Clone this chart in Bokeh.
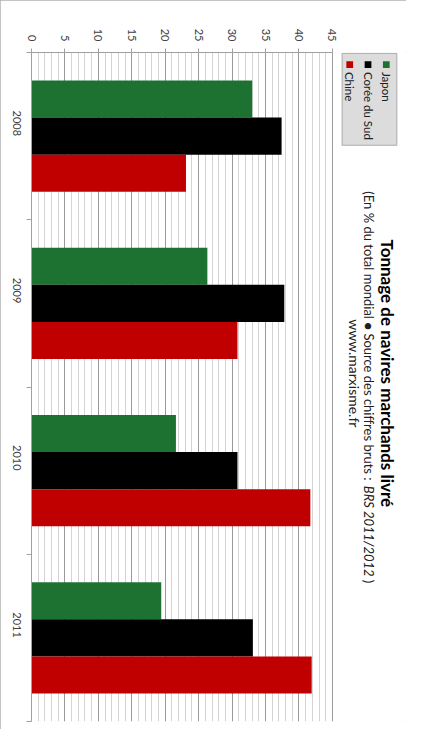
import math
from bokeh.plotting import figure
from bokeh.models import (Range1d, FixedTicker, Label, BoxAnnotation, ColumnDataSource)
from bokeh.transform import dodge
from bokeh.embed import file_html
from bokeh.resources import INLINE

years = ["2008", "2009", "2010", "2011"]
series = ["Japon", "Corée du Sud", "Chine"]
japon = [33.0, 26.3, 21.6, 19.4]
coree = [37.4, 37.8, 30.8, 33.1]
chine = [23.1, 30.8, 41.7, 41.9]
colors = ["#1e7231", "#000000", "#c00000"]
value_ticks = [0, 5, 10, 15, 20, 25, 30, 35, 40, 45]

title = "Tonnage de navires marchands livré"
sub_plain = "(En % du total mondial ● Source des chiffres bruts : "
sub_italic = "BRS 2011/2012"
sub_end = ")"
site = "www.marxisme.fr"

FONT = "Lato"
W, H = 406, 729
KX, KY = W / 422, H / 745  # reference picture -> figure scale

def fx(px):
    return px * KX
def fy(py):
    return py * KY

ML = round(fx(32))
MT = round(fy(53))
FBOT = round(fy(737))
MB = H - FBOT
MR = 0
AXIS_PX = fx(345) - ML
FW = W - ML - MR
x_end = value_ticks[-1] * FW / AXIS_PX

src = ColumnDataSource(dict(pos=[i + 0.5 for i in range(len(years))],
                            Japon=japon, Coree=coree, Chine=chine))

p = figure(width=W, height=H, output_backend="svg", toolbar_location=None,
           x_range=Range1d(0, x_end), y_range=Range1d(len(years), 0),
           x_axis_location="above",
           min_border_left=ML, min_border_top=MT, min_border_bottom=MB,
           min_border_right=MR)
p.outline_line_color = None
p.background_fill_color = "white"
p.border_fill_color = "white"
p.styles = {"outline": "1px solid #b0b0b0", "outline-offset": "-1px"}

bh = 0.222
cols = ["Japon", "Coree", "Chine"]
offsets = [-bh, 0.0, bh]
for c, off, col in zip(cols, offsets, colors):
    p.hbar(y=dodge("pos", off, range=p.y_range), left=0, right=c, height=bh,
           source=src, fill_color=col, line_color=None)

# x axis (values) at top
xa = p.xaxis[0]
xa.bounds = (0, value_ticks[-1])
xa.ticker = FixedTicker(ticks=value_ticks, minor_ticks=[])
xa.major_label_orientation = -math.pi / 2
xa.major_label_text_font = FONT
xa.major_label_text_font_size = "11px"
xa.major_label_text_color = "#404040"
xa.major_tick_out = 4
xa.major_tick_in = 0
xa.minor_tick_out = 0
xa.minor_tick_in = 0
xa.axis_line_color = "#a0a0a0"
xa.major_tick_line_color = "#a0a0a0"
xa.major_label_standoff = 7

# y axis (years) on left
ya = p.yaxis[0]
ya.ticker = FixedTicker(ticks=[i + 0.5 for i in range(len(years))],
                        minor_ticks=list(range(len(years) + 1)))
ya.major_label_overrides = {i + 0.5: y for i, y in enumerate(years)}
ya.major_label_orientation = -math.pi / 2
ya.major_label_text_font = FONT
ya.major_label_text_font_size = "11px"
ya.major_label_text_color = "#404040"
ya.major_tick_out = 0
ya.major_tick_in = 0
ya.minor_tick_out = 5
ya.minor_tick_in = 0
ya.minor_tick_line_color = "#a0a0a0"
ya.axis_line_color = "#a0a0a0"
ya.major_label_standoff = 10

p.ygrid.grid_line_color = None
p.xgrid.ticker = FixedTicker(ticks=value_ticks,
                             minor_ticks=list(range(0, value_ticks[-1] + 1)))
p.xgrid.grid_line_color = "#9a9a9a"
p.xgrid.minor_grid_line_color = "#d4d4d4"
p.xgrid.level = "underlay"

# helpers: reference picture coords -> frame screen coords
def sx(px):
    return fx(px) - ML
def sy(py):
    return FBOT - fy(py)

def vlabel(px, py, text, align, size, style="normal", color="#202020"):
    p.add_layout(Label(x=sx(px), y=sy(py), x_units="screen", y_units="screen",
                       text=text, angle=-math.pi / 2, text_align=align,
                       text_baseline="middle", text_font=FONT,
                       text_font_style=style, text_font_size=size,
                       text_color=color))

# title block (rotated)
vlabel(402, 381, title, "center", "17px", "bold", "#000000")
vlabel(383, 195, sub_plain, "left", "13px")
vlabel(383, 496, sub_italic, "left", "13px", "italic")
vlabel(383, 592, sub_end, "left", "13px")
vlabel(368, 381, site, "center", "14px")

# legend (rotated, drawn manually)
p.add_layout(BoxAnnotation(left=sx(355), right=sx(412), top=sy(54), bottom=sy(148),
                           left_units="screen", right_units="screen",
                           top_units="screen", bottom_units="screen",
                           fill_color="#dcdcdc", fill_alpha=1.0,
                           line_color="#404040", line_width=1.2, level="annotation"))
for i, (name, col) in enumerate(zip(series, colors)):
    cx = 401 - i * 19
    p.add_layout(BoxAnnotation(left=sx(cx - 3.5), right=sx(cx + 3.5),
                               top=sy(62), bottom=sy(69),
                               left_units="screen", right_units="screen",
                               top_units="screen", bottom_units="screen",
                               fill_color=col, fill_alpha=1.0, line_color=None,
                               level="annotation"))
    vlabel(cx, 73, name, "left", "11.5px")

open("out.html", "w").write(file_html(p, INLINE))
